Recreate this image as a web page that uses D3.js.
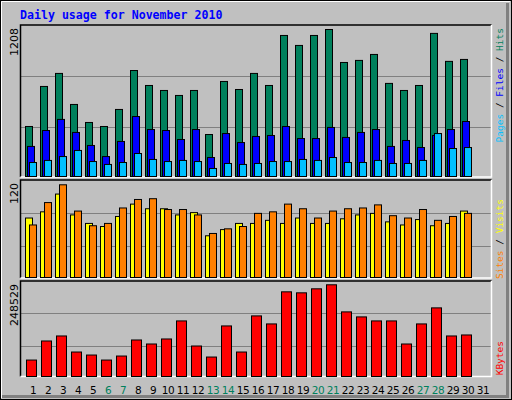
<!DOCTYPE html><html><head><meta charset="utf-8">
<script src="https://cdn.jsdelivr.net/npm/d3@7"></script>
<style>body{margin:0;background:#fff}</style></head><body><svg id="c" width="512" height="400"></svg>
<script>
const days = d3.range(1,32);
const weekends = [6,7,13,14,20,21,27,28];
const hits = [411,740,847,592,444,411,551,871,748,707,666,707,345,781,715,847,748,1159,1077,1159,1208,937,954,1003,765,707,748,1176,946,962];
const files = [247,378,469,362,255,164,288,493,386,378,304,386,156,353,279,329,337,411,312,312,403,321,362,386,247,296,238,337,386,452];
const pages = [115,132,164,214,123,99,115,189,140,123,132,123,66,107,99,107,123,123,140,132,156,115,115,132,107,107,132,353,230,238];
const sites = [77,85,108,81,70,66,79,95,89,89,81,84,54,62,70,70,74,70,77,70,70,76,81,83,72,68,75,67,70,86];
const visits = [68,97,120,86,67,70,90,101,102,88,88,81,57,63,66,83,85,95,89,77,86,89,90,94,80,77,88,74,79,83];
const kbytes = [44590,96250,109850,66340,58190,44590,55470,98970,88100,101700,150630,82650,52750,137040,66340,164230,142480,229480,226770,237640,248529,175100,161510,150630,150630,88100,142480,185980,109850,112570];
const maxLabels = ["1208","120","248529"];

const svg = d3.select("#c");
svg.append("rect").attr("width",512).attr("height",400).attr("fill","#c0c0c0");
svg.append("rect").attr("x",0.5).attr("y",0.5).attr("width",511).attr("height",399).attr("fill","none").attr("stroke","#000");
svg.append("path").attr("d","M1.5,398V1.5H510").attr("stroke","#fff").attr("fill","none");
svg.append("path").attr("d","M2,396.5H507.5V3").attr("stroke","#808080").attr("stroke-width",3).attr("fill","none");

svg.append("text").attr("x",20).attr("y",19).text("Daily usage for November 2010")
 .attr("font-family","DejaVu Sans Mono").attr("font-weight","bold").attr("font-size",11.6).attr("fill","#0000ff");

const x = d3.scaleLinear().domain([1,2]).range([25,40]);
const L=20.5, R=491.5;
const panels = [{top:25,bot:177,base:176,ytop:29,max:1208,g:[76,127]},
                {top:180,bot:278,base:277,ytop:184.3,max:120,g:[213,246]},
                {top:281,bot:376.5,base:376,ytop:284.3,max:248529,g:[313,346]}];
panels.forEach((p,i)=>{
  svg.append("rect").attr("x",L).attr("y",p.top).attr("width",R-L).attr("height",p.bot-p.top).attr("fill","#c0c0c0");
  p.g.forEach(g=>svg.append("line").attr("x1",L).attr("x2",R).attr("y1",g+0.5).attr("y2",g+0.5).attr("stroke","#808080"));
  svg.append("path").attr("d",`M${L},${p.bot}V${p.top}H${R}`).attr("stroke","#000").attr("fill","none").attr("stroke-width",1.5);
  svg.append("path").attr("d",`M${R},${p.top}V${p.bot}H${L}`).attr("stroke","#fff").attr("fill","none").attr("stroke-width",1.5);
  p.y = d3.scaleLinear().domain([0,p.max]).range([p.base,p.ytop]);
  svg.append("text").attr("transform",`translate(18,${p.top+3}) rotate(-90)`).attr("text-anchor","end")
   .attr("font-family","DejaVu Sans").attr("font-size",11).attr("fill","#000").text(maxLabels[i]);
});
function bars(data,p,off,w,color){
  svg.append("g").selectAll("rect").data(data).join("rect")
   .attr("x",(d,i)=>x(i+1)+off+0.5).attr("width",w).attr("y",d=>p.y(d)+0.5).attr("height",d=>p.base-p.y(d))
   .attr("fill",color).attr("stroke","#000").attr("stroke-width",1);
}
bars(hits,panels[0],0,7,"#00805c");
bars(files,panels[0],2,7,"#0000ff");
bars(pages,panels[0],4,7,"#00c0ff");
bars(sites,panels[1],0,7,"#ffff00");
bars(visits,panels[1],4,7,"#ff8000");
bars(kbytes,panels[2],1,10,"#ff0000");

svg.append("g").selectAll("text").data(days).join("text")
 .attr("x",d=>x(d)+8).attr("y",394).attr("text-anchor","middle")
 .attr("font-family","DejaVu Sans").attr("font-size",10.5).attr("letter-spacing",-0.5)
 .attr("fill",d=>weekends.includes(d)?"#00805c":"#000").text(d=>d);

function side(parts,yStart){
  const t=svg.append("text").attr("font-family","DejaVu Sans Mono").attr("font-size",9.5);
  parts.forEach(([s,c])=>t.append("tspan").attr("fill",c).text(s));
  const len=t.node().getComputedTextLength();
  t.attr("transform",`translate(503,${yStart+len}) rotate(-90)`);
}
side([["Pages","#00c0ff"],[" / ","#000"],["Files","#0000ff"],[" / ","#000"],["Hits","#00805c"]],28);
side([["Sites","#ff8000"],[" / ","#000"],["Visits","#ffff00"]],199);
side([["KBytes","#ff0000"]],341);
</script></body></html>
